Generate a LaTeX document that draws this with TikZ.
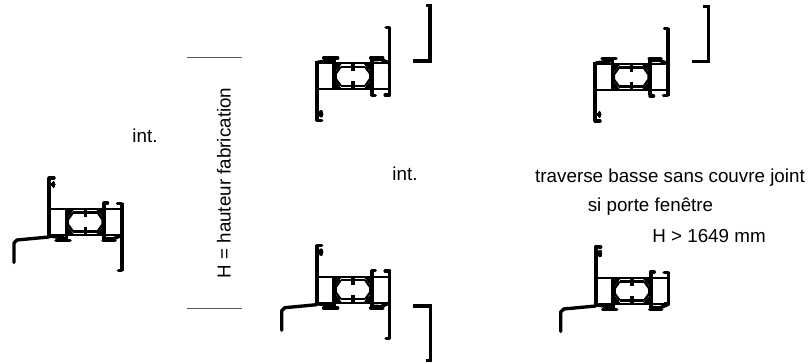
\documentclass[tikz,border=0pt]{standalone}
\usepackage{fontspec}
\setmainfont{Liberation Sans}
\usetikzlibrary{positioning}

\tikzset{
  wall/.style={black, line width=2.1pt, line join=round},
  thinwall/.style={black, line width=1.3pt, line join=round},
  gasket/.style={black, line width=2pt, line cap=round},
  angle/.style={black, line width=1.9pt, line join=miter},
  label/.style={font=\fontsize{10.7}{13}\selectfont, inner sep=0pt},
  dimline/.style={black!65, line width=0.55pt}
}

% #1 = lower end of the right leg
\newcommand{\profilesection}[1]{
  % post and hooks
  \draw[wall] (0,31)--++(0,-59);
  \draw[gasket] (0,31)--++(5,0);
  \draw[gasket] (1.5,24.5)--++(3.5,0);
  \draw[gasket] (4.5,22.5)--++(0,4);
  % frame bars
  \draw[thinwall] (0,0)--++(74,0);
  \draw[thinwall] (0,-26)--++(74,0);
  % walls of the middle chamber
  \draw[wall] (17.5,0)--++(0,-31);
  \draw[wall] (55,5.5)--++(0,-37);
  \draw[gasket] (55,6)--++(3.5,0);
  % middle chamber
  \draw[thinwall] (24,-3.5)--++(24.5,0) (24,-22.5)--++(24.5,0);
  \draw[thinwall] (24,-3.5)--++(-5,-7)--++(0,-5)--++(5,-7);
  \draw[thinwall] (48.5,-3.5)--++(5,-7)--++(0,-5)--++(-5,-7);
  \fill[black] (18,-0.5)--++(7,0)--++(-7,-9);
  \fill[black] (55,-0.5)--++(-8,0)--++(8,-9);
  \fill[black] (18,-25.5)--++(7,0)--++(-7,9);
  \fill[black] (55,-25.5)--++(-8,0)--++(8,9);
  % stubs
  \draw[wall] (36.5,-1)--++(0,-7);
  \draw[wall] (36.5,-18)--++(0,-7);
  % gaskets
  \draw[gasket] (1,-27)--++(14,-2);
  \draw[gasket] (7,-31.5)--++(14,0);
  \draw[gasket] (54,-31.5)--++(12,0);
  \draw[gasket] (56,-29.5)--++(8,-0.5)--++(8,3.5);
  % right leg
  \draw[wall] (72.7,5.7)--(72.7,#1);
  \draw[gasket] (68.5,5.7)--++(4.2,0);
  \draw[gasket] (69.5,#1)--++(3.2,0);
}

% sloped sill
\newcommand{\sillpart}{
  \draw[black, line width=1.9pt, line join=round, line cap=round] (0,-28)--(-32,-31)--(-35,-34)--++(0,-19.5);
}

\begin{document}
\begin{tikzpicture}[x=0.02cm, y=0.02cm]
\useasboundingbox (0,0) rectangle (811,364);

% left
\begin{scope}[shift={(49,155)}]
\profilesection{-61.7}
\sillpart
\end{scope}

% middle column
\begin{scope}[shift={(316.7,274.7)}, yscale=-1]
\profilesection{-61.7}
\end{scope}

\begin{scope}[shift={(316.7,87.3)}]
\profilesection{-61.7}
\sillpart
\end{scope}

% right column
\begin{scope}[shift={(595,274)}, yscale=-1]
\profilesection{-61.7}
\end{scope}

\begin{scope}[shift={(595.7,86)}]
\profilesection{-26}
\sillpart
\end{scope}

% separate angles
\draw[angle] (413,303)--(430,303)--(430,358.7)--(425.5,358.7);
\draw[angle] (413,58)--(430.7,58)--(430.7,3.3)--(426,3.3);
\draw[angle] (691.7,302.3)--(708.3,302.3)--(708.3,357.3)--(703,357.3);

% height lines
\draw[dimline] (187,306.7)--++(55,0);
\draw[dimline] (187,55.7)--++(55,0);

\node[label, rotate=90] (hauteur) at (224,181) {H = hauteur fabrication};
\node[label] (intleft) at (145,228) {int.};
\node[label] (intmiddle) at (405,190) {int.};
\node[label] (traverse) at (670,186) {traverse basse sans couvre joint};
\node[label] (porte) at (650.5,157) {si porte fenêtre};
\node[label] (hauteurmin) at (709,128) {H > 1649 mm};

\end{tikzpicture}
\end{document}
